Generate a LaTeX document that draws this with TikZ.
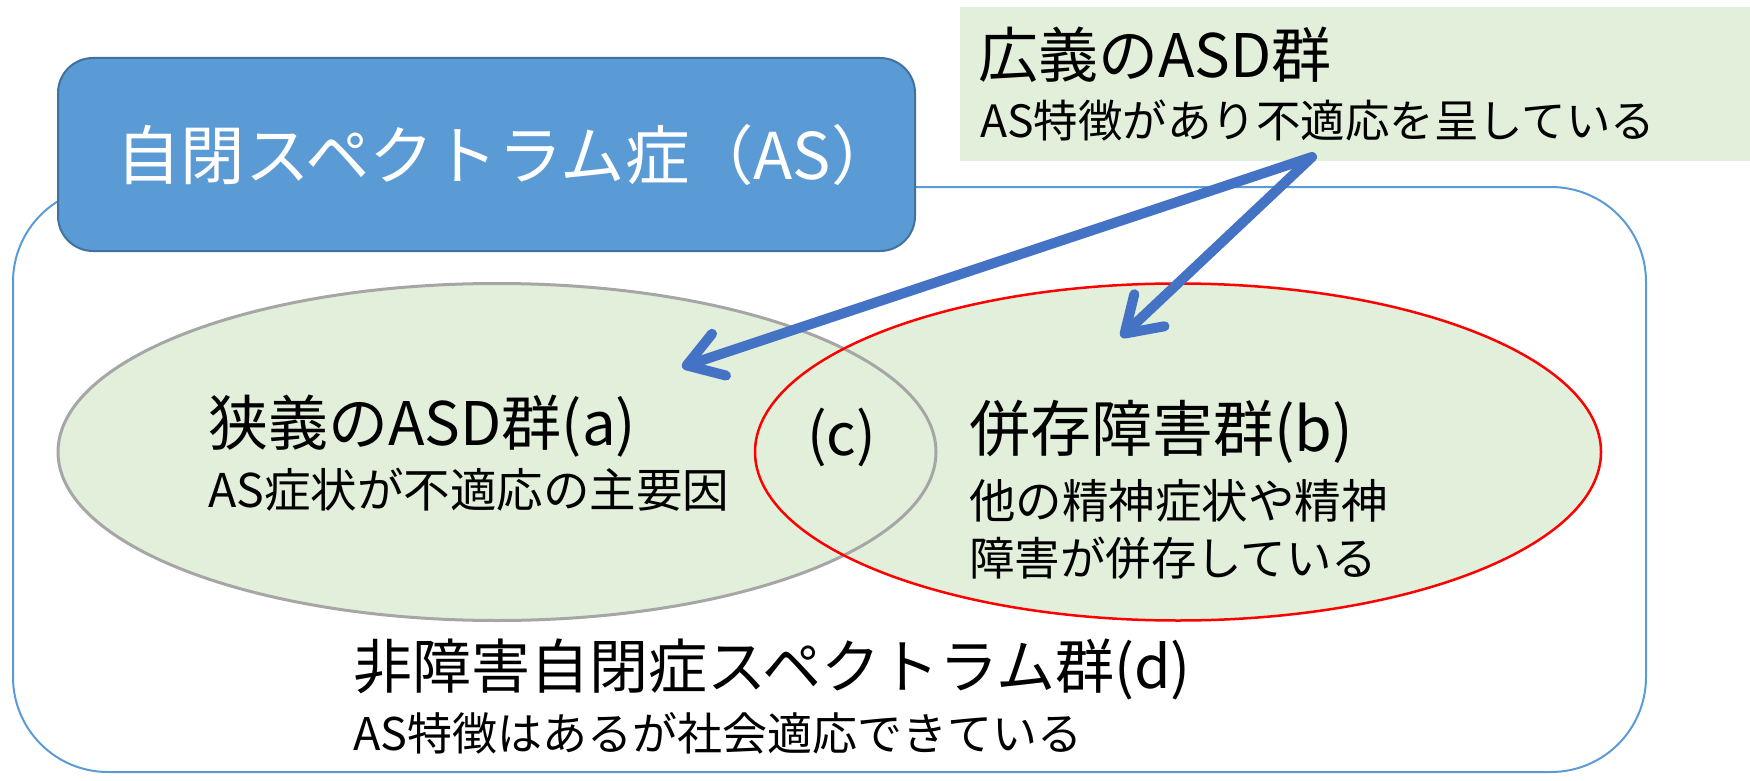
\documentclass[tikz,border=0pt]{standalone}
\usepackage{fontspec}
\newfontfamily\jp{Noto Sans CJK JP}
\usetikzlibrary{shapes.geometric,arrows.meta}
\definecolor{boxblue}{HTML}{5B9BD5}
\definecolor{boxedge}{HTML}{41719C}
\definecolor{lgreen}{HTML}{E2EFDA}
\definecolor{arrowblue}{HTML}{4472C4}
\definecolor{ellgray}{HTML}{A6A6A6}
\begin{document}
\begin{tikzpicture}[x=1pt,y=-1pt,
  txt/.style={inner sep=0pt, anchor=west, text=black},
  fs/.style={font=\jp\fontsize{#1}{#1}\selectfont},
  ellfill/.style={ellipse, fill=lgreen, inner sep=0pt},
  bigarrow/.style={draw=arrowblue, line width=10pt, line cap=round,
    -{Straight Barb[length=34pt,width=44pt,round]}}]
\path[use as bounding box] (0,0) rectangle (1750,781);
% outer frame
\node[draw=boxblue, line width=2pt, rounded corners=95pt, minimum width=1633pt, minimum height=585pt, inner sep=0pt] (outer) at (829.5,479.5) {};
% ellipse fills
\node[ellfill, minimum width=878pt, minimum height=337pt] (ea) at (497,452) {};
\node[ellfill, minimum width=846pt, minimum height=337pt] (eb) at (1178,452) {};
% ellipse strokes
\node[ellipse, draw=ellgray, line width=3pt, minimum width=878pt, minimum height=337pt, inner sep=0pt] (eas) at (ea.center) {};
\node[ellipse, draw=red, line width=2.5pt, minimum width=846pt, minimum height=337pt, inner sep=0pt] (ebs) at (eb.center) {};
% blue title box
\node[draw=boxedge, line width=2pt, fill=boxblue, rounded corners=35pt, minimum width=857pt, minimum height=193pt, inner sep=0pt] (as) at (486.5,154.5) {};
\node[fs=64.4, text=white, inner sep=0pt] (astxt) at (506,155) {自閉スペクトラム症（AS）};
% green top-right box
\node[fill=lgreen, minimum width=790pt, minimum height=154pt, inner sep=0pt] (wide) at (1355,84) {};
\node[txt, fs=60] (w1) at (978,55) {広義のASD群};
\node[txt, fs=44.5] (w2) at (980,121) {AS特徴があり不適応を呈している};
% texts
\node[txt, fs=60] (a1) at (208,426) {狭義のASD群(a)};
\node[txt, fs=46.5] (a2) at (208,490) {AS症状が不適応の主要因};
\node[txt, fs=58] (c) at (807,437) {(c)};
\node[txt, fs=61] (b1) at (969,432) {併存障害群(b)};
\node[txt, fs=46.5] (b2) at (969,501) {他の精神症状や精神};
\node[txt, fs=45.5] (b3) at (969,558) {障害が併存している};
\node[txt, fs=59] (d1) at (353,669) {非障害自閉症スペクトラム群(d)};
\node[txt, fs=45] (d2) at (353,733) {AS特徴はあるが社会適応できている};
% arrows
\coordinate (src) at (1312,157);
\coordinate (tipA) at (682,367);
\coordinate (tipB) at (1121,337);
\draw[bigarrow] (src) -- (tipA);
\draw[bigarrow] (src) -- (tipB);
\end{tikzpicture}
\end{document}
